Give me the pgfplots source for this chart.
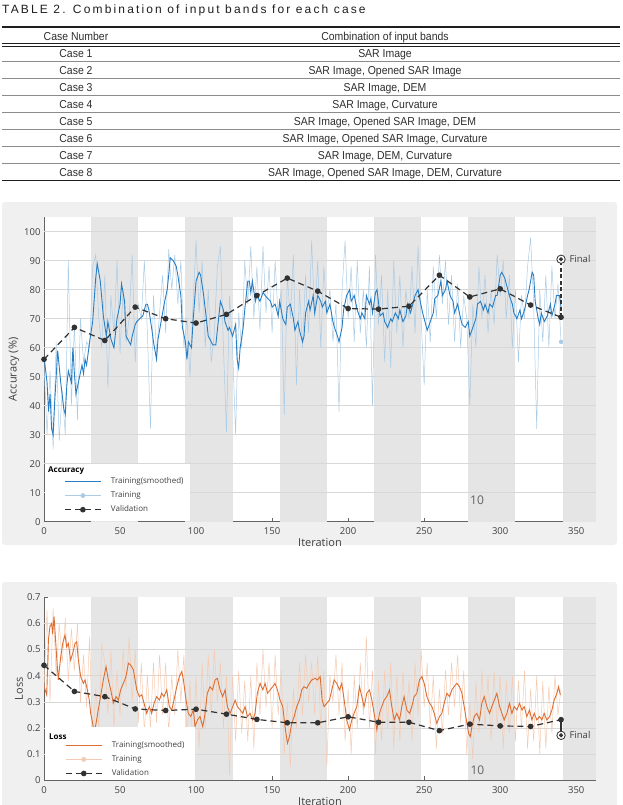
\documentclass[border=0pt]{standalone}
\usepackage{pgfplots}
\pgfplotsset{compat=1.18}
\usepackage{fontspec}
\setmainfont{Open Sans}
\newfontfamily\tabfont[FakeStretch=0.91]{Liberation Sans}
\newfontfamily\titlefont[LetterSpace=18]{Liberation Sans}
\newfontfamily\chartfont{Open Sans}

\definecolor{panelgray}{RGB}{240,240,240}
\definecolor{bandgray}{RGB}{229,229,229}
\definecolor{gridgray}{RGB}{216,216,216}
\definecolor{axisgray}{RGB}{100,100,100}
\definecolor{textgray}{RGB}{64,64,64}
\definecolor{accblue}{RGB}{40,126,196}
\definecolor{accraw}{RGB}{170,204,230}
\definecolor{lossorange}{RGB}{221,110,50}
\definecolor{lossraw}{RGB}{245,202,178}
\definecolor{valgray}{RGB}{50,50,50}
\definecolor{rulecol}{RGB}{30,30,30}
\definecolor{sepcol}{RGB}{140,140,140}
\definecolor{tabtext}{RGB}{45,45,45}

\pgfplotsset{
  trainstyle/.style={
    scale only axis, width=552pt, xmin=0, xmax=363,
    axis x line*=bottom, axis y line*=left,
    axis line style={draw=axisgray, line width=0.8pt, -},
    axis background/.style={fill=white},
    tick align=inside, major tick length=4pt,
    tick style={draw=axisgray, line width=0.7pt},
    xtick={0,50,...,350},
    /pgf/number format/assume math mode=true,
    ticklabel style={font=\chartfont\fontsize{9.5}{11}\selectfont, text=textgray},
    xticklabel style={anchor=center, yshift=-9.3pt},
    label style={font=\chartfont\fontsize{11}{13}\selectfont, text=textgray},
    xlabel={Iteration},
    xlabel style={at={(axis description cs:0.5,0)}, anchor=center, yshift=-21.3pt},
    legend cell align=left,
    legend style={draw=none, fill=none, inner sep=0pt, row sep=5.6pt, column sep=9pt,
      anchor=north west, font=\chartfont\fontsize{8}{9}\selectfont, text=textgray,
      nodes={inner sep=0.5pt}},
    legend image code/.code={\draw[mark repeat=2,mark phase=2,#1] plot coordinates {(0pt,0pt)(18pt,0pt)(36pt,0pt)};},
    valstyle/.style={valgray, line width=1.2pt, dash pattern=on 6pt off 4pt, mark=*, mark size=2.2pt, mark options={solid, fill=valgray, draw=valgray}},
  }
}

\begin{document}
\begin{tikzpicture}
\useasboundingbox (0,0) rectangle (623pt,-805pt);
% ---------- table ----------
\node[anchor=base west, inner sep=0pt, font=\titlefont\fontsize{12}{14}\selectfont, text=rulecol] at (2pt,-13.3pt) {TABLE 2. Combination of input bands for each case};
\draw[line width=1.7pt, rulecol] (2pt,-27pt) -- (620pt,-27pt);
\draw[line width=0.8pt, rulecol] (2pt,-43.3pt) -- (620pt,-43.3pt);
\draw[line width=0.8pt, rulecol] (2pt,-46.7pt) -- (620pt,-46.7pt);
\draw[line width=0.6pt, sepcol] (2pt,-61.5pt) -- (620pt,-61.5pt);
\draw[line width=0.6pt, sepcol] (2pt,-78.5pt) -- (620pt,-78.5pt);
\draw[line width=0.6pt, sepcol] (2pt,-95.5pt) -- (620pt,-95.5pt);
\draw[line width=0.6pt, sepcol] (2pt,-112.5pt) -- (620pt,-112.5pt);
\draw[line width=0.6pt, sepcol] (2pt,-129.5pt) -- (620pt,-129.5pt);
\draw[line width=0.6pt, sepcol] (2pt,-146.5pt) -- (620pt,-146.5pt);
\draw[line width=0.6pt, sepcol] (2pt,-163.5pt) -- (620pt,-163.5pt);
\draw[line width=1.7pt, rulecol] (2pt,-180.5pt) -- (620pt,-180.5pt);
\begin{scope}[every node/.style={anchor=base, inner sep=0pt, font=\tabfont\fontsize{11.5}{13}\selectfont, text=tabtext}]
\node at (76pt,-41pt) {Case Number};
\node at (385pt,-41pt) {Combination of input bands};
\node at (76pt,-57.5pt) {Case 1};
\node at (385pt,-57.5pt) {SAR Image};
\node at (76pt,-74.5pt) {Case 2};
\node at (385pt,-74.5pt) {SAR Image, Opened SAR Image};
\node at (76pt,-91.5pt) {Case 3};
\node at (385pt,-91.5pt) {SAR Image, DEM};
\node at (76pt,-108.5pt) {Case 4};
\node at (385pt,-108.5pt) {SAR Image, Curvature};
\node at (76pt,-125.5pt) {Case 5};
\node at (385pt,-125.5pt) {SAR Image, Opened SAR Image, DEM};
\node at (76pt,-142.5pt) {Case 6};
\node at (385pt,-142.5pt) {SAR Image, Opened SAR Image, Curvature};
\node at (76pt,-159.5pt) {Case 7};
\node at (385pt,-159.5pt) {SAR Image, DEM, Curvature};
\node at (76pt,-176.5pt) {Case 8};
\node at (385pt,-176.5pt) {SAR Image, Opened SAR Image, DEM, Curvature};
\end{scope}
% ---------- panels ----------
\fill[panelgray, rounded corners=3pt] (2pt,-202pt) rectangle (617pt,-545pt);
\fill[panelgray, rounded corners=3pt] (2pt,-582pt) rectangle (617pt,-830pt);

% ---------- accuracy ----------
\begin{axis}[trainstyle, at={(44pt,-521.7pt)}, anchor=south west, height=304.5pt,
  ymin=0, ymax=105, ytick={0,10,...,100},
  ylabel={Accuracy (\%)},
  ylabel style={at={(axis description cs:-0.0543,0.5)}, anchor=center},
  legend style={at={(axis cs:13.2,15.4)}}]
% epoch bands
\addplot[fill=bandgray, draw=none, forget plot] coordinates {(31,0)(62,0)(62,105)(31,105)} -- cycle;
\addplot[fill=bandgray, draw=none, forget plot] coordinates {(93,0)(124,0)(124,105)(93,105)} -- cycle;
\addplot[fill=bandgray, draw=none, forget plot] coordinates {(155,0)(186,0)(186,105)(155,105)} -- cycle;
\addplot[fill=bandgray, draw=none, forget plot] coordinates {(217,0)(248,0)(248,105)(217,105)} -- cycle;
\addplot[fill=bandgray, draw=none, forget plot] coordinates {(279,0)(310,0)(310,105)(279,105)} -- cycle;
\addplot[fill=bandgray, draw=none, forget plot] coordinates {(341,0)(363,0)(363,105)(341,105)} -- cycle;
% grid
\pgfplotsinvokeforeach{10,20,30,40,50,60,70,80,90,100}{
  \addplot[gridgray, line width=0.6pt, forget plot] coordinates {(0,#1)(363,#1)};
}
% raw training
\addplot[accraw, line width=0.5pt, forget plot] coordinates {
(0,55)(2,30)(4,52)(6,25)(8,62)(10,28)(12,45)(14,30)(16,90)(18,40)(20,68)(22,35)(24,70)(26,55)(28,62)(30,60)
(32,88)(34,92)(36,70)(38,60)(40,85)(42,46)(44,78)(46,65)(48,90)(50,58)(52,80)(54,62)(56,70)(58,92)(60,55)
(62,75)(64,70)(66,90)(68,65)(70,32)(72,78)(74,58)(76,72)(78,85)(80,65)(82,94)(84,80)(86,92)(88,75)(90,90)
(92,60)(94,70)(96,50)(98,75)(100,97)(102,72)(104,90)(106,60)(108,80)(110,55)(112,65)(114,88)(116,95)(118,60)
(120,31)(122,78)(124,60)(126,30)(128,72)(130,60)(132,90)(134,75)(136,95)(138,70)(140,88)(142,66)(144,95)
(146,72)(148,88)(150,65)(152,90)(154,70)(156,80)(158,37)(160,85)(162,70)(164,92)(166,47)(168,80)(170,60)
(172,85)(174,65)(176,97)(178,70)(180,90)(182,60)(184,88)(186,72)(188,80)(190,62)(192,75)(194,38)(196,80)
(198,97)(200,70)(202,88)(204,62)(206,90)(208,65)(210,80)(212,60)(214,88)(216,40)(218,92)(220,68)(222,85)
(224,55)(226,80)(228,53)(230,90)(232,65)(234,85)(236,60)(238,80)(240,70)(242,88)(244,65)(246,95)(248,70)
(250,47)(252,80)(254,62)(256,88)(258,70)(260,92)(262,75)(264,90)(266,68)(268,85)(270,62)(272,82)(274,60)
(276,78)(278,70)(280,40)(282,75)(284,60)(286,88)(288,70)(290,85)(292,65)(294,80)(296,68)(298,92)(300,78)
(302,90)(304,70)(306,85)(308,60)(310,80)(312,55)(314,78)(316,70)(318,88)(320,98)(322,75)(324,32)(326,80)
(328,62)(330,85)(332,60)(334,88)(336,70)(338,82)(340,62)};
% smoothed training
\addplot[accblue, line width=0.9pt, forget plot] coordinates {
(0,57)(2,48)(3,38)(4,44)(5,32)(6,30)(7,41)(9,59)(11,48)(13,39)(14,37)(15,47)(16,52)(18,48)(19,60)(20,51)
(21,44)(23,49)(25,54)(26,51)(27,56)(28,54)(30,62)(32,69)(34,84)(35,89)(37,83)(39,71)(41,64)(42,69)(44,63)
(46,60)(48,70)(50,75)(51,82)(53,76)(54,64)(57,61)(58,64)(60,68)(61,69)(63,70)(65,71)(67,75)(68,75)(69,73)
(71,66)(72,62)(74,56)(75,63)(77,69)(79,75)(81,80)(82,85)(83,91)(85,90)(87,88)(88,85)(90,78)(91,67)(93,62)
(94,56)(95,62)(97,60)(98,69)(100,83)(102,86)(103,85)(105,78)(107,69)(108,64)(110,62)(111,61)(113,61)(115,71)
(116,76)(118,73)(119,69)(121,66)(122,67)(124,64)(126,68)(127,56)(128,53)(129,60)(131,67)(132,73)(134,83)
(135,83)(136,79)(137,83)(139,76)(140,78)(142,76)(144,79)(147,77)(149,76)(150,74)(152,75)(154,71)(155,76)
(157,70)(159,68)(160,74)(162,75)(164,70)(165,66)(167,69)(168,66)(170,62)(171,64)(172,72)(174,76)(175,73)
(177,78)(178,72)(180,78)(182,76)(183,74)(185,76)(186,72)(188,75)(190,69)(191,67)(193,64)(194,62)(196,67)
(197,73)(199,78)(201,80)(202,76)(204,78)(206,73)(208,70)(209,72)(211,70)(212,78)(214,75)(215,77)(216,72)
(218,79)(219,80)(221,71)(223,72)(224,69)(226,67)(228,70)(229,69)(231,72)(233,70)(234,73)(236,69)(238,71)
(239,75)(241,72)(243,76)(244,78)(246,80)(247,77)(249,72)(251,68)(252,66)(254,69)(256,72)(257,77)(259,78)
(261,83)(262,78)(264,80)(265,83)(267,78)(269,76)(270,72)(272,75)(274,70)(275,68)(277,67)(279,69)(280,64)
(282,67)(284,70)(285,75)(287,76)(289,73)(290,75)(292,72)(293,75)(295,74)(297,78)(298,78)(300,85)(301,86)
(303,84)(304,82)(306,78)(308,75)(309,72)(311,70)(313,73)(314,70)(316,73)(318,78)(319,80)(321,86)(322,85)
(323,76)(325,70)(326,68)(327,72)(329,69)(331,71)(333,75)(334,71)(336,75)(337,78)(339,78)(340,74)};
% final connector and markers
\addplot[valgray, line width=1.2pt, dash pattern=on 4pt off 2.5pt, forget plot] coordinates {(340,70.5)(340,90.5)};
\addplot[valstyle, forget plot] coordinates {
(0,56)(20,67)(40,62.5)(60,74)(80,70)(100,68.5)(120,71.5)(140,78)(160,84)(180,79.5)
(200,73.5)(220,73.3)(240,74.3)(260,85)(280,77.5)(300,80.3)(320,74.7)(340,70.5)};
\addplot[only marks, mark=*, mark size=2pt, mark options={fill=accraw, draw=accraw}, forget plot] coordinates {(340,62)};
\addplot[only marks, mark=*, mark size=4.2pt, mark options={fill=white, draw=valgray, line width=0.8pt}, forget plot] coordinates {(340,90.5)};
\addplot[only marks, mark=*, mark size=1.9pt, mark options={fill=valgray, draw=valgray}, forget plot] coordinates {(340,90.5)};
% legend box
\addplot[fill=white, draw=none, forget plot] coordinates {(0.6,0.3)(96,0.3)(96,20)(0.6,20)} -- cycle;
\node[anchor=base west, inner sep=0pt, font=\chartfont\bfseries\fontsize{8}{9}\selectfont, text=black] at (axis cs:2.6,16.8) {Accuracy};
\node[anchor=west, inner sep=0pt, font=\chartfont\fontsize{9.5}{11}\selectfont, text=textgray] at (axis cs:345.5,90.5) {Final};
\node[inner sep=0pt, font=\chartfont\fontsize{12}{14}\selectfont, text=axisgray] at (axis cs:284.8,7.3) {10};
\addlegendimage{accblue, line width=0.9pt}
\addlegendentry{Training(smoothed)}
\addlegendimage{accraw, line width=0.8pt, mark=*, mark size=2pt, mark options={fill=accraw, draw=accraw}}
\addlegendentry{Training}
\addlegendimage{valstyle}
\addlegendentry{Validation}
\end{axis}

% ---------- loss ----------
\begin{axis}[trainstyle, at={(44pt,-780.3pt)}, anchor=south west, height=183pt,
  ymin=0, ymax=0.7, ytick={0,0.1,...,0.7},
  yticklabel style={/pgf/number format/fixed, /pgf/number format/precision=1},
  ylabel={Loss},
  ylabel style={at={(axis description cs:-0.0453,0.5)}, anchor=center},
  legend style={at={(axis cs:13.8,0.151)}}]
\addplot[fill=bandgray, draw=none, forget plot] coordinates {(31,0)(62,0)(62,0.7)(31,0.7)} -- cycle;
\addplot[fill=bandgray, draw=none, forget plot] coordinates {(93,0)(124,0)(124,0.7)(93,0.7)} -- cycle;
\addplot[fill=bandgray, draw=none, forget plot] coordinates {(155,0)(186,0)(186,0.7)(155,0.7)} -- cycle;
\addplot[fill=bandgray, draw=none, forget plot] coordinates {(217,0)(248,0)(248,0.7)(217,0.7)} -- cycle;
\addplot[fill=bandgray, draw=none, forget plot] coordinates {(279,0)(310,0)(310,0.7)(279,0.7)} -- cycle;
\addplot[fill=bandgray, draw=none, forget plot] coordinates {(341,0)(363,0)(363,0.7)(341,0.7)} -- cycle;
\pgfplotsinvokeforeach{0.1,0.2,0.3,0.4,0.5,0.6}{
  \addplot[gridgray, line width=0.6pt, forget plot] coordinates {(0,#1)(363,#1)};
}
\addplot[lossraw, line width=0.5pt, forget plot] coordinates {
(0,0.35)(2,0.65)(4,0.30)(6,0.66)(8,0.40)(10,0.60)(12,0.45)(14,0.62)(16,0.38)(18,0.58)(20,0.42)(22,0.60)
(24,0.30)(26,0.48)(28,0.28)(30,0.55)(32,0.12)(34,0.35)(36,0.20)(38,0.52)(40,0.45)(42,0.25)(44,0.50)(46,0.20)
(48,0.42)(50,0.25)(52,0.50)(54,0.35)(56,0.55)(58,0.30)(60,0.50)(62,0.22)(64,0.45)(66,0.18)(68,0.40)(70,0.20)
(72,0.45)(74,0.22)(76,0.48)(78,0.25)(80,0.45)(82,0.18)(84,0.40)(86,0.25)(88,0.50)(90,0.30)(92,0.48)(94,0.15)
(96,0.38)(98,0.10)(100,0.40)(102,0.12)(104,0.45)(106,0.20)(108,0.48)(110,0.25)(112,0.50)(114,0.30)(116,0.45)
(118,0.20)(120,0.40)(122,0.02)(124,0.40)(126,0.15)(128,0.42)(130,0.18)(132,0.38)(134,0.15)(136,0.40)(138,0.12)
(140,0.45)(142,0.25)(144,0.50)(146,0.28)(148,0.45)(150,0.20)(152,0.48)(154,0.25)(156,0.42)(158,0.10)(160,0.30)
(162,0.05)(164,0.35)(166,0.20)(168,0.45)(170,0.25)(172,0.48)(174,0.30)(176,0.45)(178,0.25)(180,0.48)(182,0.20)
(184,0.42)(186,0.05)(188,0.40)(190,0.30)(192,0.48)(194,0.25)(196,0.45)(198,0.15)(200,0.35)(202,0.10)(204,0.40)
(206,0.20)(208,0.45)(210,0.25)(212,0.55)(214,0.20)(216,0.42)(218,0.10)(220,0.38)(222,0.15)(224,0.42)(226,0.20)
(228,0.45)(230,0.12)(232,0.40)(234,0.15)(236,0.42)(238,0.22)(240,0.38)(242,0.15)(244,0.45)(246,0.25)(248,0.50)
(250,0.28)(252,0.45)(254,0.20)(256,0.40)(258,0.12)(260,0.35)(262,0.18)(264,0.42)(266,0.25)(268,0.45)(270,0.28)
(272,0.48)(274,0.22)(276,0.42)(278,0.10)(280,0.30)(282,0.08)(284,0.38)(286,0.18)(288,0.42)(290,0.20)(292,0.40)
(294,0.15)(296,0.42)(298,0.20)(300,0.40)(302,0.12)(304,0.38)(306,0.18)(308,0.40)(310,0.15)(312,0.38)(314,0.20)
(316,0.42)(318,0.12)(320,0.35)(322,0.15)(324,0.40)(326,0.10)(328,0.38)(330,0.12)(332,0.36)(334,0.18)(336,0.40)
(338,0.25)(340,0.35)};
\addplot[lossorange, line width=0.9pt, forget plot] coordinates {
(0,0.36)(1.8,0.327)(2.9,0.537)(3.9,0.588)(5,0.60)(5.7,0.56)(6.6,0.626)(7.2,0.575)(8.3,0.473)(9.4,0.384)
(11,0.473)(12.3,0.524)(13.8,0.556)(14.9,0.511)(16,0.524)(17.5,0.46)(18.9,0.486)(20.4,0.524)(21.5,0.53)
(22.6,0.46)(24.1,0.397)(25.9,0.371)(27,0.384)(28.5,0.346)(29.8,0.307)(30.7,0.256)(32,0.218)(33.1,0.18)
(34.6,0.231)(36.8,0.307)(39,0.384)(40.8,0.435)(42.3,0.384)(43.9,0.346)(45.6,0.295)(47.4,0.32)(48.9,0.307)
(50.4,0.346)(52.2,0.371)(53.9,0.397)(55.5,0.448)(57,0.441)(58.8,0.422)(59.9,0.384)(61,0.346)(62.7,0.32)
(64.3,0.327)(65.8,0.295)(67.5,0.256)(69.3,0.282)(70.8,0.256)(72.4,0.295)(74.1,0.32)(75.9,0.307)(77.4,0.333)
(78.9,0.32)(80.7,0.346)(82.4,0.282)(84,0.269)(85.5,0.307)(87.3,0.358)(89,0.397)(90.6,0.416)(91.7,0.384)
(93.4,0.307)(94.9,0.256)(96.5,0.244)(98.2,0.269)(99.3,0.205)(100.9,0.231)(102.6,0.244)(104.4,0.205)
(105.9,0.256)(107.4,0.333)(109.2,0.358)(110.9,0.346)(112.5,0.384)(114,0.39)(115.8,0.346)(117.5,0.32)
(119.1,0.346)(120.6,0.282)(122.4,0.256)(124.1,0.282)(125.7,0.307)(127.2,0.282)(129,0.269)(130.7,0.256)
(132.2,0.282)(133.8,0.244)(135.5,0.256)(137.3,0.231)(138.8,0.256)(140.3,0.333)(142.1,0.371)(143.9,0.346)
(145.4,0.371)(147,0.333)(148.7,0.346)(150.4,0.358)(151.9,0.371)(153.5,0.346)(155.2,0.307)(157,0.282)
(158.5,0.205)(160.1,0.142)(161.4,0.167)(162.9,0.218)(164.5,0.244)(166.2,0.282)(168,0.307)(169.5,0.346)
(171,0.358)(172.8,0.352)(174.5,0.371)(176.1,0.384)(178.3,0.39)(179.8,0.384)(181.6,0.397)(182.9,0.307)
(184.2,0.282)(186,0.295)(187.7,0.307)(189.3,0.346)(190.8,0.384)(192.5,0.371)(194.3,0.346)(195.8,0.371)
(197.4,0.307)(199.1,0.231)(200.9,0.193)(202.4,0.231)(203.9,0.256)(205.7,0.282)(207.5,0.358)(209,0.32)
(210.5,0.282)(212.3,0.333)(214,0.346)(215.6,0.307)(217.1,0.256)(218.9,0.193)(220.6,0.256)(222.1,0.282)
(223.7,0.307)(225.4,0.32)(227.2,0.346)(228.7,0.282)(230.3,0.231)(232,0.256)(233.8,0.231)(235.3,0.282)
(236.8,0.32)(238.6,0.269)(240.4,0.256)(241.9,0.282)(243.4,0.32)(245.2,0.333)(246.9,0.384)(248.5,0.397)
(250,0.371)(251.8,0.32)(253.5,0.295)(255.1,0.282)(256.6,0.256)(258.3,0.218)(260.1,0.244)(261.6,0.256)
(263.2,0.295)(264.9,0.333)(266.7,0.32)(268.2,0.346)(269.7,0.358)(271.5,0.371)(273.2,0.358)(274.8,0.333)
(276.3,0.282)(278.1,0.218)(279.2,0.18)(280.3,0.167)(281.4,0.205)(282.9,0.244)(284.6,0.256)(286.4,0.231)
(287.9,0.295)(289.5,0.32)(291.2,0.282)(293,0.256)(294.5,0.282)(296.1,0.307)(297.8,0.333)(299.6,0.282)
(301.1,0.256)(302.6,0.231)(304.4,0.256)(306.1,0.295)(307.7,0.256)(309.2,0.282)(311,0.269)(312.7,0.295)
(314.3,0.269)(315.8,0.282)(317.5,0.244)(319.3,0.269)(320.8,0.231)(322.4,0.256)(324.1,0.231)(325.9,0.244)
(327.4,0.231)(328.9,0.256)(330.7,0.231)(332.5,0.244)(334,0.269)(335.5,0.307)(337.3,0.333)(338.4,0.358)
(339.5,0.327)};
\addplot[valgray, line width=1.2pt, forget plot] coordinates {(340,0.232)(340,0.172)};
\addplot[valstyle, forget plot] coordinates {
(0,0.44)(20,0.34)(40,0.32)(60,0.273)(80,0.267)(100,0.272)(120,0.253)(140,0.233)(160,0.22)(180,0.22)
(200,0.243)(220,0.222)(240,0.222)(260,0.19)(280,0.215)(300,0.208)(320,0.206)(340,0.232)};
\addplot[only marks, mark=*, mark size=4.2pt, mark options={fill=white, draw=valgray, line width=0.8pt}, forget plot] coordinates {(340,0.172)};
\addplot[only marks, mark=*, mark size=1.9pt, mark options={fill=valgray, draw=valgray}, forget plot] coordinates {(340,0.172)};
\addplot[fill=white, draw=none, forget plot] coordinates {(0.6,0.002)(99.3,0.002)(99.3,0.205)(0.6,0.205)} -- cycle;
\node[anchor=base west, inner sep=0pt, font=\chartfont\bfseries\fontsize{8}{9}\selectfont, text=black] at (axis cs:3.3,0.158) {Loss};
\node[anchor=west, inner sep=0pt, font=\chartfont\fontsize{9.5}{11}\selectfont, text=textgray] at (axis cs:345.5,0.172) {Final};
\node[inner sep=0pt, font=\chartfont\fontsize{12}{14}\selectfont, text=axisgray] at (axis cs:285,0.037) {10};
\addlegendimage{lossorange, line width=0.9pt}
\addlegendentry{Training(smoothed)}
\addlegendimage{lossraw, line width=0.8pt, mark=*, mark size=2pt, mark options={fill=lossraw, draw=lossraw}}
\addlegendentry{Training}
\addlegendimage{valstyle}
\addlegendentry{Validation}
\end{axis}
\end{tikzpicture}
\end{document}
